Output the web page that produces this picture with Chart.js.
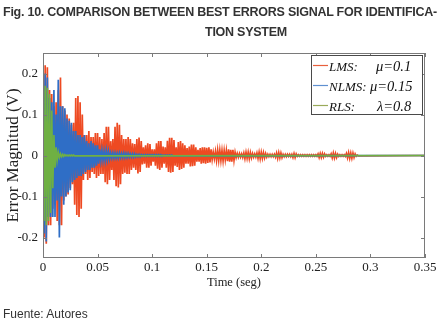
<!DOCTYPE html>
<html><head><meta charset="utf-8">
<script src="https://cdn.jsdelivr.net/npm/chart.js@4.4.0/dist/chart.umd.min.js"></script>
<style>
html,body{margin:0;padding:0;background:#fff;}
#wrap{position:relative;width:441px;height:325px;overflow:hidden;background:#fff;}
canvas{position:absolute;left:0;top:0;}
.t{position:absolute;font-family:"Liberation Sans",Arial,sans-serif;color:#333;white-space:nowrap;}
</style></head><body>
<div id="wrap">
<canvas id="c" width="441" height="325"></canvas>
<div class="t" id="t1" style="left:3px;top:5.5px;font-size:12.5px;line-height:13px;font-weight:bold;">Fig. 10. COMPARISON BETWEEN BEST ERRORS SIGNAL FOR IDENTIFICA-</div>
<div class="t" id="t2" style="left:205px;top:25.5px;font-size:12.5px;line-height:13px;font-weight:bold;">TION SYSTEM</div>
<div class="t" id="src" style="left:3px;top:307px;font-size:12px;line-height:14px;">Fuente: Autores</div>
</div>
<script>
// ---- data ----
const xTicks = [0, 0.05, 0.1, 0.15, 0.2, 0.25, 0.3, 0.35];
const xTickLabels = ['0', '0.05', '0.1', '0.15', '0.2', '0.25', '0.3', '0.35'];
const yTicks = [-0.2, -0.1, 0, 0.1, 0.2];
const yTickLabels = ['-0.2', '-0.1', '0', '0.1', '0.2'];
const sampleStep = 0.001;   // seconds between samples
const endTime = 0.35;       // signals settle to 0 until this time
const seriesNames = ['LMS:', 'NLMS:', 'RLS:'];
const seriesParams = ['\u03bc=0.1', '\u03bc=0.15', '\u03bb=0.8'];

// LMS (mu=0.1) error, peaks per sample (V)
const lmsError = [
  0.05,-0.20,0.22,-0.215,0.215,-0.17,0.16,-0.17,0.15,-0.13,
  0.12,-0.12,0.13,-0.16,0.16,-0.17,0.19,-0.17,0.12,-0.11,
  0.11,-0.10,0.10,-0.095,0.09,-0.08,0.075,-0.07,0.08,-0.12,
  0.14,-0.145,0.145,-0.15,0.13,-0.13,0.10,-0.06,0.05,-0.045,
  0.05,-0.06,0.06,-0.055,0.045,-0.04,0.045,-0.045,0.055,-0.055,
  0.055,-0.05,0.045,-0.045,0.04,-0.045,0.055,-0.065,0.07,-0.07,
  0.07,-0.06,0.035,-0.035,0.04,-0.06,0.07,-0.075,0.08,-0.078,
  0.075,-0.07,0.05,-0.045,0.04,-0.042,0.04,-0.045,0.045,-0.045,
  0.04,-0.035,0.03,-0.03,0.028,-0.035,0.04,-0.044,0.044,-0.04,
  0.035,-0.022,0.02,-0.02,0.025,-0.03,0.03,-0.03,0.028,-0.025,
  0.015,-0.015,0.015,-0.025,0.03,-0.032,0.035,-0.035,0.035,-0.03,
  0.022,-0.02,0.02,-0.03,0.036,-0.04,0.043,-0.042,0.043,-0.04,
  0.038,-0.025,0.02,-0.028,0.033,-0.035,0.035,-0.033,0.03,-0.03,
  0.025,-0.02,0.018,-0.02,0.022,-0.027,0.027,-0.026,0.027,-0.025,
  0.02,-0.015,0.014,-0.015,0.018,-0.02,0.02,-0.019,0.02,-0.02,
  0.019,-0.018,0.02,-0.017,0.015,-0.01,0.008,-0.008,0.01,-0.012,
  0.013,-0.012,0.013,-0.012,0.012,-0.013,0.012,-0.01,0.012,-0.014,
  0.015,-0.015,0.014,-0.015,0.014,-0.012,0.008,-0.005,0.005,-0.004,
  0.005,-0.004,0.004,-0.005,0.006,-0.008,0.008,-0.007,0.008,-0.008,
  0.007,-0.006,0.005,-0.004,0.004,-0.004,0.006,-0.007,0.008,-0.008,
  0.008,-0.007,0.007,-0.006,0.005,-0.004,0.003,-0.003,0.003,-0.003,
  0.003,-0.003,0.003,-0.004,0.006,-0.007,0.007,-0.006,0.006,-0.005,
  0.003,-0.003,0.003,-0.003,0.003,-0.002,0.003,-0.003,0.003,-0.005,
  0.005,-0.005,0.004,-0.002,0.002,-0.002,0.002,-0.002,0.002,-0.002,
  0.002,-0.002,0.002,-0.002,0.002,-0.002,0.002,-0.002,0.002,-0.002,
  0.002,-0.002,0.004,-0.005,0.005,-0.005,0.005,-0.004,0.004,-0.002,
  0.002,-0.002,0.002,-0.002,0.004,-0.006,0.006,-0.006,0.005,-0.005,
  0.003,-0.002,0.002,-0.002,0.002,-0.002,0.002,-0.002,0.005,-0.006,
  0.007,-0.007,0.006,-0.007,0.006,-0.005,0.004,-0.002,0.001,-0.001
];

// NLMS (mu=0.15) error
const nlmsError = [
  0.08,-0.19,0.20,-0.21,0.19,-0.15,0.14,-0.15,0.13,-0.15,
  0.16,-0.15,0.10,-0.11,0.185,-0.20,0.12,-0.10,0.12,-0.12,
  0.115,-0.10,0.09,-0.09,0.085,-0.085,0.08,-0.065,0.06,-0.06,
  0.06,-0.055,0.05,-0.05,0.05,-0.05,0.045,-0.045,0.05,-0.04,
  0.035,-0.035,0.03,-0.035,0.035,-0.03,0.03,-0.03,0.025,-0.025,
  0.025,-0.02,0.015,-0.012,0.012,-0.012,0.01,-0.012,0.012,-0.01,
  0.01,-0.008,0.006,-0.006,0.006,-0.006,0.006,-0.006,0.005,-0.006,
  0.006,-0.005,0.005,-0.005,0.006,-0.005,0.005,-0.005,0.005,-0.004,
  0.004,-0.004,0.004,-0.004,0.004,-0.003,0.003,-0.003,0.003,-0.003,
  0.002,-0.002,0.002,-0.002,0.002,-0.002,0.002,-0.002,0.002,-0.002,
  0.002,-0.002,0.002,-0.002,0.002,-0.002,0.002,-0.002,0.002,-0.002,
  0.001,-0.001,0.001,-0.001,0.001,-0.001,0.001,-0.001,0.001,-0.001
];

// RLS (lambda=0.8) error
const rlsError = [
  0.12,-0.16,0.17,-0.17,0.165,-0.16,0.15,-0.14,0.11,-0.08,
  0.05,-0.03,0.02,-0.012,0.008,-0.005,0.004,-0.003,0.003,-0.002,
  0.002,-0.001,0.001,-0.001,0.001,-0.001,0.001,-0.001,0.001,-0.001
];

// ---- styles ----
const serif = '"Liberation Serif","Times New Roman",serif';
const colors = ['#ee4a22', '#2f6ec6', '#6fb043'];
const legendColors = ['#e8603c', '#5f90d0', '#9aaa5a'];

function toPoints(values) {
  const pts = values.map((v, i) => ({ x: i * sampleStep, y: v }));
  pts.push({ x: endTime, y: 0 });
  return pts;
}

// fit title line 1 to its width in the reference
(function () {
  const t1 = document.getElementById('t1'), t2 = document.getElementById('t2');
  const w = t1.getBoundingClientRect().width;
  const n = t1.textContent.length;
  const ls = (434 - w) / n;
  t1.style.letterSpacing = ls + 'px';
  t2.style.letterSpacing = ls + 'px';
})();

const frame = {
  id: 'frame',
  afterDatasetsDraw(chart) {
    const { ctx, chartArea: a, scales: { x, y } } = chart;
    ctx.save();
    ctx.strokeStyle = '#7a7a7a';
    ctx.lineWidth = 1;
    ctx.strokeRect(a.left + 0.5, a.top + 0.5, a.right - a.left - 1, a.bottom - a.top - 1);
    ctx.beginPath();
    const tl = 4;
    xTicks.forEach(v => {
      const px = Math.round(x.getPixelForValue(v)) + 0.5;
      ctx.moveTo(px, a.bottom); ctx.lineTo(px, a.bottom - tl);
      ctx.moveTo(px, a.top); ctx.lineTo(px, a.top + tl);
    });
    yTicks.forEach(v => {
      const py = Math.round(y.getPixelForValue(v)) + 0.5;
      ctx.moveTo(a.left, py); ctx.lineTo(a.left + tl, py);
      ctx.moveTo(a.right, py); ctx.lineTo(a.right - tl, py);
    });
    ctx.stroke();

    // legend box
    const bx = a.right - 114, by = a.top + 2, bw = 112, bh = 60;
    ctx.fillStyle = '#fff';
    ctx.fillRect(bx, by, bw, bh);
    ctx.strokeStyle = '#4a4a4a';
    ctx.strokeRect(bx + 0.5, by + 0.5, bw - 1, bh - 1);
    const paramX = [65, 59, 66];
    ctx.textBaseline = 'alphabetic';
    seriesNames.forEach((name, i) => {
      const cy = by + 10 + 20 * i;
      ctx.strokeStyle = legendColors[i];
      ctx.lineWidth = 1.2;
      ctx.beginPath();
      ctx.moveTo(bx + 2, cy + 0.5); ctx.lineTo(bx + 17, cy + 0.5);
      ctx.stroke();
      ctx.fillStyle = '#111';
      ctx.font = 'italic 13px ' + serif;
      ctx.fillText(name, bx + 18, cy + 5.5);
      ctx.font = 'italic 14.5px ' + serif;
      ctx.fillText(seriesParams[i], bx + paramX[i], cy + 5.5);
    });
    ctx.restore();
  }
};

new Chart(document.getElementById('c'), {
  type: 'line',
  data: {
    datasets: [
      { label: 'LMS', data: toPoints(lmsError), borderColor: colors[0], backgroundColor: colors[0],
        fill: 'origin', order: 3, borderWidth: 1.7 },
      { label: 'NLMS', data: toPoints(nlmsError), borderColor: colors[1], backgroundColor: colors[1],
        fill: 'origin', order: 2, borderWidth: 1.7 },
      { label: 'RLS', data: toPoints(rlsError), borderColor: colors[2], backgroundColor: colors[2],
        fill: 'origin', order: 1, borderWidth: 1.6 }
    ]
  },
  options: {
    responsive: false,
    animation: false,
    devicePixelRatio: 1,
    parsing: false,
    normalized: true,
    elements: { point: { radius: 0 }, line: { borderWidth: 1, tension: 0 } },
    layout: { padding: { left: 0, top: 53, right: 16, bottom: 0 } },
    plugins: { legend: { display: false }, tooltip: { enabled: false }, title: { display: false } },
    scales: {
      x: {
        type: 'linear', min: 0, max: 0.35,
        afterBuildTicks: s => { s.ticks = xTicks.map(v => ({ value: v })); },
        afterFit: s => { s.height = 67; s.paddingLeft = 0; s.paddingRight = 0; },
        grid: { display: false, drawTicks: false },
        border: { display: false },
        ticks: { font: { family: serif, size: 13 }, color: '#222', padding: 2, maxRotation: 0, autoSkip: false,
                 callback: (v, i) => xTickLabels[i] },
        title: { display: true, text: 'Time (seg)', color: '#222', font: { family: serif, size: 12.5 },
                 padding: { top: 0, bottom: 35 } }
      },
      y: {
        type: 'linear', min: -0.25, max: 0.25,
        afterBuildTicks: s => { s.ticks = yTicks.map(v => ({ value: v })); },
        afterFit: s => { s.width = 43; s.paddingTop = 0; s.paddingBottom = 0; },
        grid: { display: false, drawTicks: false },
        border: { display: false },
        ticks: { font: { family: serif, size: 13 }, color: '#222', padding: 5,
                 callback: (v, i) => yTickLabels[i] },
        title: { display: true, text: 'Error Magnitud (V)', color: '#222', font: { family: serif, size: 17 },
                 padding: { top: 3, bottom: 0 } }
      }
    }
  },
  plugins: [frame]
});
</script>
</body></html>
